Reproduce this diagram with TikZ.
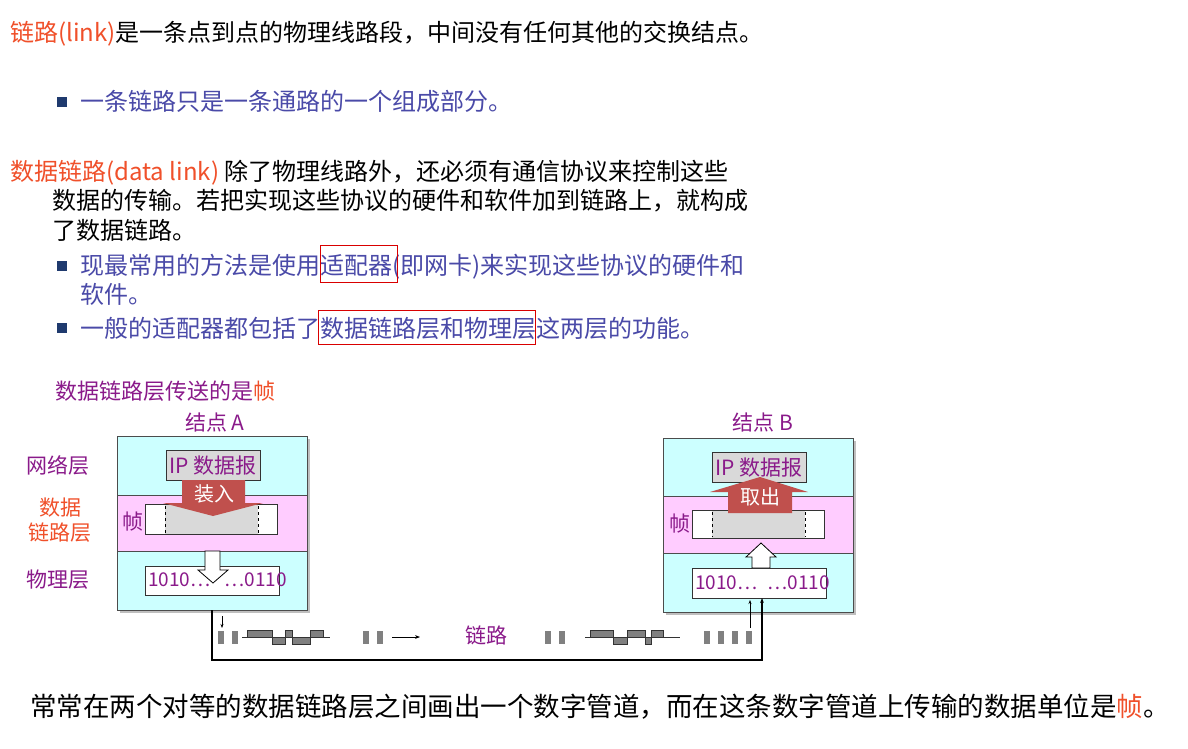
\documentclass[tikz,border=0pt]{standalone}
\usepackage{fontspec}
\setmainfont{Liberation Sans}
\newfontfamily\cjk{Noto Sans CJK SC}
\usetikzlibrary{arrows.meta}
\definecolor{tred}{HTML}{F0502A}
\definecolor{tblue}{HTML}{4A4AA8}
\definecolor{tpur}{HTML}{8A1A8A}
\definecolor{cyanl}{HTML}{CCFFFF}
\definecolor{pinkl}{HTML}{FFCCFF}
\definecolor{arrred}{HTML}{C0504D}
\definecolor{bulb}{HTML}{1F3A6E}
\definecolor{sig}{HTML}{808080}
\begin{document}
\begin{tikzpicture}[x=1pt,y=-1pt,
  tx/.style={anchor=base west,inner sep=0pt,font=\cjk\fontsize{24}{28}\selectfont},
  dg/.style={inner sep=0pt,font=\cjk\fontsize{21}{25}\selectfont,text=tpur},
  bits/.style={inner sep=0pt,font=\cjk\fontsize{19}{23}\selectfont,text=tpur},
  bul/.style={fill=bulb,minimum size=10pt,inner sep=0pt},
  lay/.style={draw=black!70,line width=0.8pt},
  wbox/.style={draw=black!80,line width=0.8pt},
  redbox/.style={draw=red!85!black,line width=0.8pt},
  wave/.style={fill=sig,draw=black!80,line width=0.6pt}]
\useasboundingbox (0,0) rectangle (1188,749);
\fill[white] (0,0) rectangle (1188,749);
% text
\node[tx] (t1) at (10,42) {\textcolor{tred}{链路(link)}是一条点到点的物理线路段，中间没有任何其他的交换结点。};
\node[bul] (b1) at (62,102) {};
\node[tx,text=tblue] (t2) at (80,111) {一条链路只是一条通路的一个组成部分。};
\node[tx] (t3) at (10,180) {\textcolor{tred}{数据链路(data link)} 除了物理线路外，还必须有通信协议来控制这些};
\node[tx] (t4) at (52,209) {数据的传输。若把实现这些协议的硬件和软件加到链路上，就构成};
\node[tx] (t5) at (52,239) {了数据链路。};
\node[bul] (b2) at (62,266) {};
\node[tx,text=tblue] (t6) at (80,274) {现最常用的方法是使用适配器(即网卡)来实现这些协议的硬件和};
\node[tx,text=tblue] (t7) at (80,303) {软件。};
\node[bul] (b3) at (62,328) {};
\node[tx,text=tblue] (t8) at (80,337) {一般的适配器都包括了数据链路层和物理层这两层的功能。};
\draw[redbox] (320,245) rectangle (397,282);
\draw[redbox] (318,310) rectangle (535,344);
\node[tx,text=tpur,font=\cjk\fontsize{22}{26}\selectfont] (t9) at (55,399) {数据链路层传送的是\textcolor{tred}{帧}};
% node A
\node[dg] (na) at (215,422) {结点 A};
\fill[black!25] (120,439) rectangle (310,613);
\fill[cyanl] (117,436) rectangle (307,495);
\fill[pinkl] (117,495) rectangle (307,551);
\fill[cyanl] (117,551) rectangle (307,610);
\draw[lay] (117,436) rectangle (307,610) (117,495) -- (307,495) (117,551) -- (307,551);
\node[draw=black!80,fill=black!15,minimum width=94pt,minimum height=30pt,dg,anchor=north west] (ipa) at (166,450) {IP 数据报};
\fill[white] (145,504) rectangle (277,534);
\fill[black!15] (165,504) rectangle (258,534);
\draw[dashed,line width=0.8pt] (165,506) -- (165,533) (258,506) -- (258,533);
\draw[wbox] (145,504) rectangle (277,534);
\fill[arrred] (182,480) -- (245,480) -- (245,503) -- (263,503) -- (213,516) -- (163,503) -- (182,503) -- cycle;
\node[inner sep=0pt,font=\cjk\fontsize{20}{24}\selectfont,text=white] (za) at (214,494) {装入};
\node[dg] (la1) at (58,465) {网络层};
\node[dg,text=tred,align=center] (la2) at (60,520) {数据\\链路层};
\node[dg] (la3) at (133,522) {帧};
\node[dg] (la4) at (58,580) {物理层};
\node[draw=black!80,fill=white,minimum width=134pt,minimum height=29pt,anchor=north west,inner sep=0pt] (bita) at (145,566) {};
\node[bits,anchor=west] (bta) at (148,580) {1010…\hspace{14pt}…0110};
\draw[fill=white,line width=0.8pt] (205,551) -- (220,551) -- (220,570) -- (228,570) -- (213,583) -- (198,570) -- (205,570) -- cycle;
% node B
\node[dg] (nb) at (763,422) {结点 B};
\fill[black!25] (666,441) rectangle (856,615);
\fill[cyanl] (663,438) rectangle (853,496);
\fill[pinkl] (663,496) rectangle (853,553);
\fill[cyanl] (663,553) rectangle (853,612);
\draw[lay] (663,438) rectangle (853,612) (663,496) -- (853,496) (663,553) -- (853,553);
\node[draw=black!80,fill=black!15,minimum width=94pt,minimum height=30pt,dg,anchor=north west] (ipb) at (712,452) {IP 数据报};
\fill[white] (692,510) rectangle (824,538);
\fill[black!15] (712,510) rectangle (805,538);
\draw[dashed,line width=0.8pt] (712,512) -- (712,537) (805,512) -- (805,537);
\draw[wbox] (692,510) rectangle (824,538);
\fill[arrred] (728,513) -- (792,513) -- (792,492) -- (808,492) -- (760,477) -- (710,492) -- (728,492) -- cycle;
\node[inner sep=0pt,font=\cjk\fontsize{20}{24}\selectfont,text=white] (qc) at (760,497) {取出};
\node[dg] (lb3) at (680,524) {帧};
\node[draw=black!80,fill=white,minimum width=134pt,minimum height=30pt,anchor=north west,inner sep=0pt] (bitb) at (692,568) {};
\node[bits,anchor=west] (btb) at (695,583) {1010…\hspace{10pt}…0110};
\draw[fill=white,line width=0.8pt] (752,568) -- (770,568) -- (770,557) -- (776,557) -- (761,543) -- (746,557) -- (752,557) -- cycle;
% link line
\coordinate (c1) at (212,610);
\coordinate (c2) at (212,660);
\coordinate (c3) at (762,660);
\coordinate (c4) at (762,598);
\draw[line width=1.5pt,-{Stealth[length=5pt]}] (c1) -- (c2) -- (c3) -- (c4);
\coordinate (d1) at (222,616); \coordinate (d2) at (222,628);
\draw[-{Stealth[length=4pt]},line width=0.6pt] (d1) -- (d2);
\coordinate (e1) at (750,628); \coordinate (e2) at (750,600);
\draw[-{Stealth[length=4pt]},line width=0.6pt] (e1) -- (e2);
\coordinate (f1) at (392,637); \coordinate (f2) at (420,637);
\draw[-{Stealth[length=5pt]},line width=0.6pt] (f1) -- (f2);
\foreach \x in {218,232,363,377,545,559,704,718,732,746} \fill[sig] (\x,631) rectangle ++(6,13);
% waves
\draw[black!80,line width=0.6pt] (242,637) -- (330,637) (585,637) -- (680,637);
\draw[wave] (247,630) rectangle (272,637);
\draw[wave] (272,637) rectangle (285,644);
\draw[wave] (285,630) rectangle (292,637);
\draw[wave] (292,637) rectangle (310,644);
\draw[wave] (310,630) rectangle (323,637);
\draw[wave] (590,630) rectangle (613,637);
\draw[wave] (613,637) rectangle (627,644);
\draw[wave] (627,630) rectangle (645,637);
\draw[wave] (645,637) rectangle (651,644);
\draw[wave] (651,630) rectangle (663,637);
\node[dg] (ll) at (486,635) {链路};
% bottom
\node[tx,font=\cjk\fontsize{26.5}{30}\selectfont] (tb) at (30,716) {常常在两个对等的数据链路层之间画出一个数字管道，而在这条数字管道上传输的数据单位是\textcolor{tred}{帧}。};
\end{tikzpicture}
\end{document}
